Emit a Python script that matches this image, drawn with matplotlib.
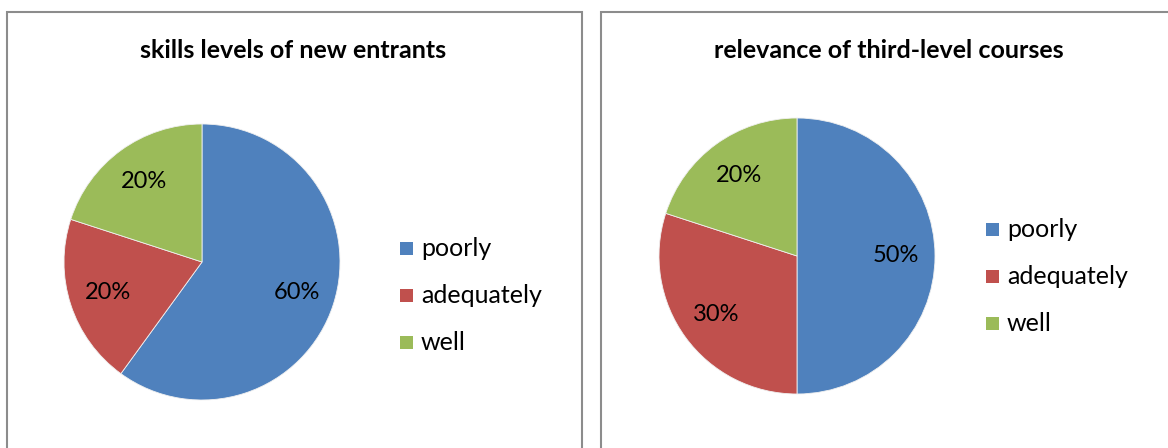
import matplotlib
matplotlib.use("Agg")
import matplotlib.pyplot as plt
from matplotlib.patches import Rectangle

categories = ["poorly", "adequately", "well"]
skills_values = [60, 20, 20]
relevance_values = [50, 30, 20]
titles = ["skills levels of new entrants", "relevance of third-level courses"]
colors = ["#4F81BD", "#C0504D", "#9BBB59"]

W, H = 1168, 448
fig = plt.figure(figsize=(W / 100, H / 100), dpi=100)
plt.rcParams['font.family'] = ['Lato', 'DejaVu Sans']

def fx(x):
    return x / W

def fy(y):
    return 1 - y / H

# panel borders
for (x0, x1) in [(7, 582), (601, 1180)]:
    r = Rectangle((fx(x0), fy(470)), fx(x1 - x0), (470 - 12) / H,
                  transform=fig.transFigure, fill=False,
                  edgecolor="#8c8c8c", linewidth=1.5, zorder=0)
    fig.patches.append(r)

panels = [
    dict(values=skills_values, center=(202, 262), title_x=293, legend_x=400, legend_y=[248, 295, 342]),
    dict(values=relevance_values, center=(797, 256), title_x=889, legend_x=986, legend_y=[229, 276, 323]),
]

R = 138
for p, title in zip(panels, titles):
    cx, cy = p["center"]
    ax = fig.add_axes([fx(cx - R), fy(cy + R), 2 * R / W, 2 * R / H])
    wedges, texts, autotexts = ax.pie(
        p["values"], colors=colors, startangle=90, counterclock=False,
        autopct=lambda v: f"{v:.0f}%", pctdistance=0.72, radius=1,
        wedgeprops=dict(edgecolor="#f0f0f0", linewidth=0.6),
        textprops=dict(fontsize=17, color="black"))
    ax.set_xlim(-1, 1)
    ax.set_ylim(-1, 1)
    ax.set_aspect("auto")
    ax.axis("off")
    fig.text(fx(p["title_x"]), fy(50), title, ha="center", va="center",
             fontsize=18, fontweight="bold")
    lx = p["legend_x"]
    for cat, col, ly in zip(categories, colors, p["legend_y"]):
        sq = Rectangle((fx(lx), fy(ly + 7)), 13 / W, 13 / H,
                       transform=fig.transFigure, facecolor=col, edgecolor="none")
        fig.patches.append(sq)
        fig.text(fx(lx + 21), fy(ly), cat, ha="left", va="center", fontsize=18)

fig.savefig("out.png", dpi=100)
